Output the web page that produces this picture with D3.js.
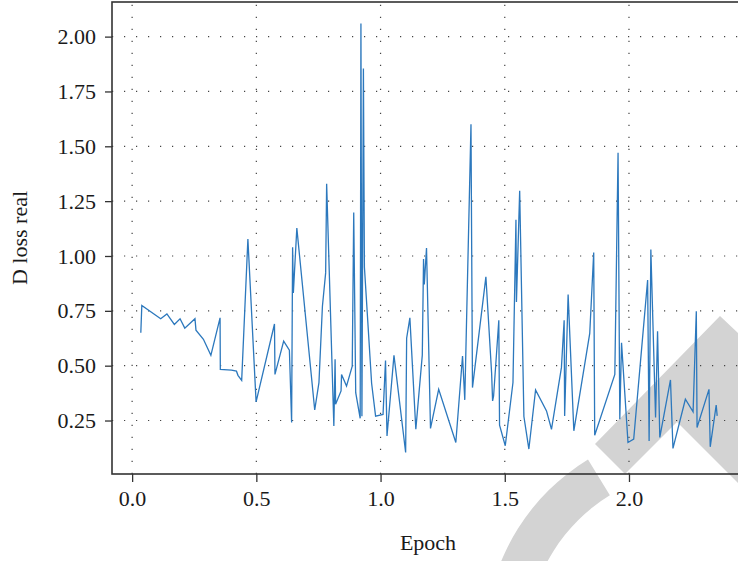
<!DOCTYPE html>
<html>
<head>
<meta charset="utf-8">
<script src="https://cdn.jsdelivr.net/npm/d3@7"></script>
<style>
  body { margin: 0; background: #fff; }
  svg { display: block; }
  .axis text { font-family: "Liberation Serif", "Times New Roman", serif; font-size: 22px; fill: #1a1a1a; }
  .axis path { display: none; }
  .axis line { stroke: #333; stroke-width: 1.3; }
  .label { font-family: "Liberation Serif", "Times New Roman", serif; font-size: 22px; fill: #1a1a1a; }
</style>
</head>
<body>
<svg width="738" height="561"></svg>
<script>
// values
var epoch = [0.035, 0.039, 0.115, 0.14, 0.17, 0.193, 0.212, 0.253, 0.257, 0.287,
  0.317, 0.354, 0.355, 0.40, 0.42, 0.426, 0.441, 0.466, 0.499, 0.573,
  0.575, 0.61, 0.633, 0.642, 0.646, 0.649, 0.663, 0.735, 0.752, 0.766,
  0.779, 0.783, 0.812, 0.817, 0.819, 0.841, 0.843, 0.863, 0.886, 0.892,
  0.90, 0.918, 0.921, 0.925, 0.931, 0.935, 0.964, 0.98, 1.01, 1.02,
  1.026, 1.054, 1.101, 1.105, 1.118, 1.142, 1.168, 1.173, 1.176, 1.185,
  1.201, 1.234, 1.303, 1.33, 1.339, 1.364, 1.37, 1.424, 1.447, 1.451,
  1.455, 1.476, 1.479, 1.502, 1.533, 1.545, 1.547, 1.56, 1.577, 1.597,
  1.624, 1.668, 1.688, 1.728, 1.739, 1.741, 1.755, 1.778, 1.842, 1.858,
  1.862, 1.943, 1.956, 1.963, 1.97, 1.996, 2.019, 2.075, 2.081, 2.088,
  2.107, 2.115, 2.124, 2.167, 2.177, 2.227, 2.258, 2.271, 2.274, 2.322,
  2.327, 2.351, 2.355];

var lossReal = [0.65, 0.774, 0.714, 0.736, 0.688, 0.714, 0.671, 0.714, 0.662, 0.62,
  0.547, 0.718, 0.483, 0.48, 0.475, 0.456, 0.433, 1.077, 0.335, 0.69,
  0.46, 0.612, 0.571, 0.241, 1.04, 0.832, 1.127, 0.298, 0.423, 0.771,
  0.923, 1.329, 0.225, 0.529, 0.324, 0.385, 0.46, 0.407, 0.498, 1.198,
  0.377, 0.26, 2.06, 0.27, 1.855, 0.95, 0.42, 0.27, 0.278, 0.524,
  0.18, 0.547, 0.104, 0.625, 0.718, 0.21, 0.548, 0.986, 0.87, 1.036,
  0.214, 0.392, 0.15, 0.544, 0.344, 1.60, 0.40, 0.905, 0.468, 0.339,
  0.362, 0.707, 0.229, 0.135, 0.423, 1.165, 0.79, 1.297, 0.268, 0.12,
  0.389, 0.294, 0.21, 0.491, 0.707, 0.271, 0.824, 0.203, 0.647, 1.016,
  0.183, 0.46, 1.471, 0.256, 0.604, 0.15, 0.165, 0.89, 0.157, 1.029,
  0.264, 0.657, 0.173, 0.435, 0.123, 0.347, 0.29, 0.748, 0.218, 0.392,
  0.13, 0.32, 0.271];

var xTicks = [0.0, 0.5, 1.0, 1.5, 2.0];
var yTicks = [0.25, 0.50, 0.75, 1.00, 1.25, 1.50, 1.75, 2.00];

var data = epoch.map(function(e, i) { return {epoch: e, loss: lossReal[i]}; });

var plotLeft = 112, plotRight = 746, plotTop = 2, plotBottom = 474;

var svg = d3.select("svg");

//-------------scales (5% padding like matplotlib)-----------
var xExt = d3.extent(epoch), yExt = d3.extent(lossReal);
var xPad = (xExt[1] - xExt[0]) * 0.05, yPad = (yExt[1] - yExt[0]) * 0.05;

var x = d3.scaleLinear()
  .domain([xExt[0] - xPad, xExt[1] + xPad])
  .range([plotLeft, plotRight]);

var y = d3.scaleLinear()
  .domain([yExt[0] - yPad, yExt[1] + yPad])
  .range([plotBottom, plotTop]);

//-------------watermark in the corner-------------
var mark = svg.append("g").style("fill", "#d3d3d3");
mark.append("path")
  .attr("d", "M595,444 L625,474 L677,422 L820,565 L900,485 L720,316 Z");
mark.append("path")
  .attr("transform", "translate(700,643)")
  .attr("d", d3.arc()
    .innerRadius(173)
    .outerRadius(215)
    .startAngle(-0.548)
    .endAngle(-2.4)());

//-------------grid-------------
svg.append("g")
  .selectAll("line")
  .data(xTicks)
  .enter()
  .append("line")
  .attr("x1", function(d) { return x(d); })
  .attr("x2", function(d) { return x(d); })
  .attr("y1", plotBottom)
  .attr("y2", plotTop)
  .style("stroke", "#444")
  .style("stroke-width", 1.2)
  .style("stroke-dasharray", "1.2,10.8");

svg.append("g")
  .selectAll("line")
  .data(yTicks)
  .enter()
  .append("line")
  .attr("x1", plotLeft)
  .attr("x2", plotRight)
  .attr("y1", function(d) { return y(d); })
  .attr("y2", function(d) { return y(d); })
  .style("stroke", "#444")
  .style("stroke-width", 1.2)
  .style("stroke-dasharray", "1.2,10.8");

//-------------line-------------
var line = d3.line()
  .x(function(d) { return x(d.epoch); })
  .y(function(d) { return y(d.loss); });

svg.append("path")
  .datum(data)
  .attr("d", line)
  .style("fill", "none")
  .style("stroke", "#2c78bd")
  .style("stroke-width", 1.3)
  .style("stroke-linejoin", "miter");

//-------------frame-------------
svg.append("rect")
  .attr("x", plotLeft)
  .attr("y", plotTop)
  .attr("width", plotRight - plotLeft)
  .attr("height", plotBottom - plotTop)
  .style("fill", "none")
  .style("stroke", "#333")
  .style("stroke-width", 1.6);

//-------------axes-------------
svg.append("g")
  .attr("class", "axis")
  .attr("transform", "translate(0," + plotBottom + ")")
  .call(d3.axisBottom(x)
    .tickValues(xTicks)
    .tickSize(8)
    .tickPadding(8)
    .tickFormat(d3.format(".1f")));

svg.append("g")
  .attr("class", "axis")
  .attr("transform", "translate(" + plotLeft + ",0)")
  .call(d3.axisLeft(y)
    .tickValues(yTicks)
    .tickSize(7)
    .tickPadding(9)
    .tickFormat(d3.format(".2f")));

svg.append("text")
  .attr("class", "label")
  .attr("x", 428)
  .attr("y", 550)
  .style("text-anchor", "middle")
  .text("Epoch");

svg.append("text")
  .attr("class", "label")
  .attr("transform", "rotate(-90)")
  .attr("x", -(plotTop + plotBottom) / 2)
  .attr("y", 27)
  .style("text-anchor", "middle")
  .text("D loss real");
</script>
</body>
</html>
